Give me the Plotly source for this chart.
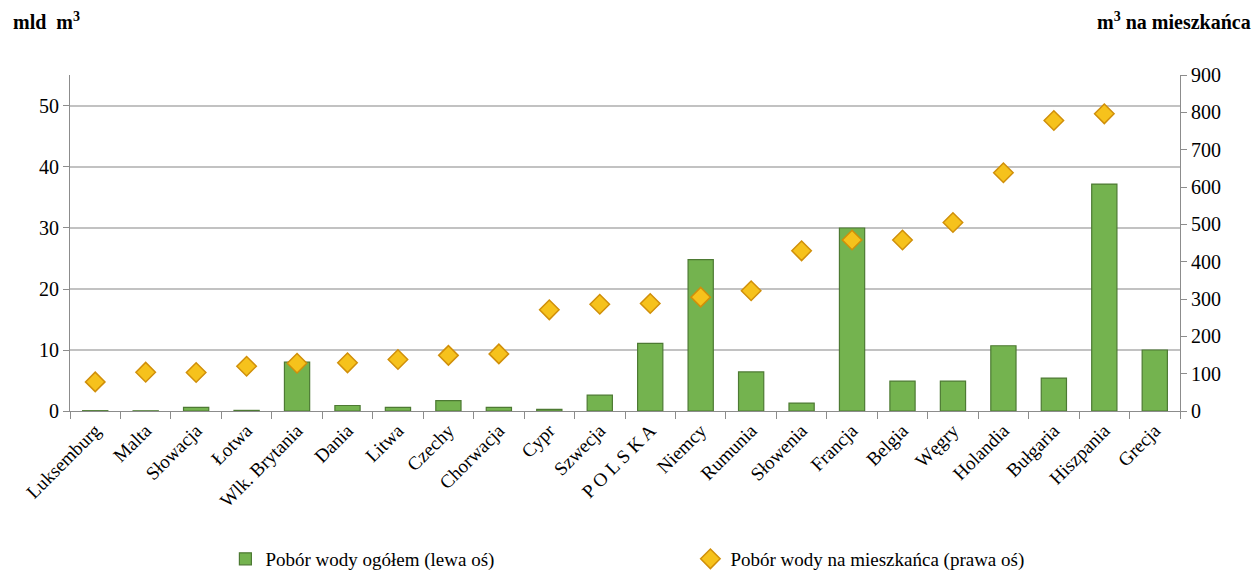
import plotly.graph_objects as go

countries = ["Luksemburg", "Malta", "Słowacja", "Łotwa", "Wlk. Brytania", "Dania", "Litwa",
             "Czechy", "Chorwacja", "Cypr", "Szwecja", "P O L S K A", "Niemcy", "Rumunia",
             "Słowenia", "Francja", "Belgia", "Węgry", "Holandia", "Bułgaria", "Hiszpania", "Grecja"]

# total water abstraction, billion m3 (left axis)
total_bn_m3 = [0.05, 0.03, 0.6, 0.1, 8.0, 0.9, 0.6, 1.7, 0.6, 0.25, 2.6, 11.1,
               24.8, 6.4, 1.3, 30.0, 4.9, 4.9, 10.7, 5.4, 37.2, 10.0]

# abstraction per inhabitant, m3 (right axis)
per_capita_m3 = [78, 104, 103, 120, 128, 129, 138, 149, 153, 271, 286, 288,
                 305, 322, 429, 458, 458, 505, 638, 778, 796, None]

left_ticks = [0, 10, 20, 30, 40, 50]
right_ticks = [0, 100, 200, 300, 400, 500, 600, 700, 800, 900]

serif = "Liberation Serif, Times New Roman, serif"
axis_grey = "#8c8c8c"

fig = go.Figure()
fig.add_trace(go.Bar(
    x=countries, y=total_bn_m3, name="Pobór wody ogółem (lewa oś)",
    marker=dict(color="#74b34f", line=dict(color="#4d7a33", width=1.2)),
    width=0.5, yaxis="y",
))
fig.add_trace(go.Scatter(
    x=countries, y=per_capita_m3, name="Pobór wody na mieszkańca (prawa oś)",
    mode="markers", yaxis="y2",
    marker=dict(symbol="diamond", size=15, color="#f6c21c",
                line=dict(color="#d08f0a", width=1.5)),
))

fig.update_layout(
    width=1255, height=575,
    margin=dict(l=70, r=75, t=75, b=164, autoexpand=False),
    paper_bgcolor="white", plot_bgcolor="white",
    font=dict(family=serif, size=18, color="black"),
    xaxis=dict(
        type="category", range=[-0.5, len(countries) - 0.5], automargin=False,
        tickangle=-45, tickfont=dict(size=19),
        showline=True, linecolor=axis_grey, linewidth=1,
        ticks="outside", tickson="boundaries", ticklen=7, tickcolor=axis_grey,
        showgrid=False,
    ),
    yaxis=dict(
        range=[0, 55.08], tickvals=left_ticks, tickfont=dict(size=20), automargin=False,
        showline=True, linecolor=axis_grey, linewidth=1,
        ticks="outside", ticklen=6, tickcolor=axis_grey,
        showgrid=True, gridcolor="#c2c2c2", gridwidth=1.5,
        zeroline=False,
    ),
    yaxis2=dict(
        range=[0, 900], tickvals=right_ticks, tickfont=dict(size=20), automargin=False,
        overlaying="y", side="right",
        showline=True, linecolor=axis_grey, linewidth=1,
        ticks="outside", ticklen=6, tickcolor=axis_grey,
        showgrid=False, zeroline=False,
    ),
    legend=dict(
        orientation="h", x=0.14, xanchor="left", y=-0.497, yanchor="bottom",
        font=dict(size=19), entrywidth=420, itemwidth=30,
    ),
    annotations=[
        dict(text="<b>mld  m<sup>3</sup></b>", xref="paper", yref="paper",
             x=-0.053, y=1.16, xanchor="left", yanchor="middle",
             showarrow=False, font=dict(size=20)),
        dict(text="<b>m<sup>3</sup> na mieszkańca</b>", xref="paper", yref="paper",
             x=1.066, y=1.16, xanchor="right", yanchor="middle",
             showarrow=False, font=dict(size=20)),
    ],
)

fig.write_html("out.html")
